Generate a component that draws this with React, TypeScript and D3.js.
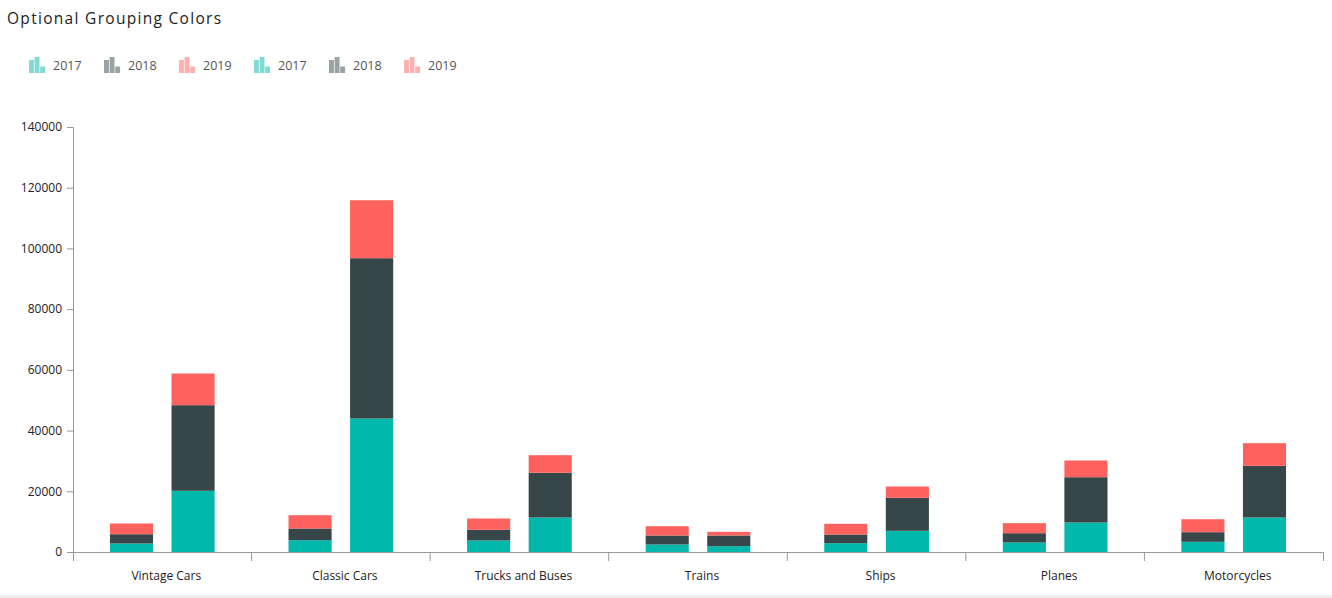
import React, { useEffect, useRef } from "react"
import * as d3 from "d3"

// categories and series
const categories = [
	"Vintage Cars",
	"Classic Cars",
	"Trucks and Buses",
	"Trains",
	"Ships",
	"Planes",
	"Motorcycles",
]
const years = ["2017", "2018", "2019"]
const groups = ["A", "B"]

// first (small) stack of each category
const groupA2017 = [2800, 3890, 3790, 2470, 2900, 3130, 3360]
const groupA2018 = [3060, 3850, 3520, 2970, 2860, 3060, 3160]
const groupA2019 = [3530, 4380, 3720, 3060, 3530, 3300, 4280]
// second (large) stack of each category
const groupB2017 = [20160, 43970, 11360, 1910, 6980, 9720, 11360]
const groupB2018 = [28200, 52810, 14730, 3530, 10870, 14920, 17030]
const groupB2019 = [10440, 19100, 5800, 1210, 3730, 5500, 7450]

const yTicks = [0, 20000, 40000, 60000, 80000, 100000, 120000, 140000]
const colors = ["#01B8AA", "#374649", "#FD625E"]

const W = 1332
const H = 598
const FONT = "'Open Sans', 'Noto Sans', sans-serif"

const App: React.FC = () => {
	const ref = useRef<SVGSVGElement>(null)

	useEffect(() => {
		const margin = { top: 127, right: 9, bottom: 46, left: 73 }
		const innerWidth = W - margin.left - margin.right
		const innerHeight = H - margin.top - margin.bottom

		const svg = d3.select(ref.current)
		svg.selectAll("*").remove()

		// bottom strip of the container
		svg.append("rect")
			.attr("x", 0)
			.attr("y", 595)
			.attr("width", W)
			.attr("height", 3)
			.attr("fill", "#f0f0f4")

		svg.append("text")
			.attr("x", 7)
			.attr("y", 24)
			.attr("font-family", FONT)
			.attr("font-size", 15.5)
			.attr("letter-spacing", "1.3px")
			.attr("fill", "#222")
			.text("Optional Grouping Colors")

		/* ***** legend ***** */
		const legendItems = groups.flatMap(() => years.map((y, i) => ({ y, c: colors[i] })))
		const legend = svg.append("g").attr("transform", "translate(29,57)")
		const li = legend
			.selectAll("g")
			.data(legendItems)
			.join("g")
			.attr("transform", (d, i) => `translate(${i * 75},0)`)
		const icon = [
			[0, 3, 13],
			[5.6, 0, 16],
			[11.2, 9.5, 6.5],
		]
		icon.forEach(([x, y, h]) => {
			li.append("rect")
				.attr("x", x)
				.attr("y", y)
				.attr("width", 4.9)
				.attr("height", h)
				.attr("fill", (d) => d.c)
				.attr("opacity", 0.5)
		})
		li.append("text")
			.attr("x", 24)
			.attr("y", 13)
			.attr("font-family", FONT)
			.attr("font-size", 12.5)
			.attr("fill", "#555")
			.text((d) => d.y)

		/* ***** chart ***** */
		const g = svg.append("g").attr("transform", `translate(${margin.left},${margin.top})`)

		const x0 = d3.scaleBand().domain(categories).range([0, innerWidth])
		const x1 = d3
			.scaleBand()
			.domain(groups)
			.range([0, x0.bandwidth()])
			.paddingInner(0.3)
			.paddingOuter(0.6)
		const y = d3.scaleLinear().domain([0, 140000]).range([innerHeight, 0])

		const groupData: Record<string, number[][]> = {
			A: [groupA2017, groupA2018, groupA2019],
			B: [groupB2017, groupB2018, groupB2019],
		}

		groups.forEach((grp) => {
			const rows = categories.map((cat, ci) => {
				const r: Record<string, any> = { cat }
				years.forEach((yr, yi) => (r[yr] = groupData[grp][yi][ci]))
				return r
			})
			const stacked = d3.stack().keys(years)(rows as any)
			g.append("g")
				.selectAll("g")
				.data(stacked)
				.join("g")
				.attr("fill", (d, i) => colors[i])
				.selectAll("rect")
				.data((d) => d)
				.join("rect")
				.attr("x", (d: any) => (x0(d.data.cat) as number) + (x1(grp) as number))
				.attr("width", x1.bandwidth())
				.attr("y", (d) => y(d[1]))
				.attr("height", (d) => y(d[0]) - y(d[1]))
		})

		const yAxis = g
			.append("g")
			.call(d3.axisLeft(y).tickValues(yTicks).tickFormat(d3.format("d")).tickSize(6).tickPadding(5))
		const xAxis = g
			.append("g")
			.attr("transform", `translate(0,${innerHeight})`)
			.call(
				d3
					.axisBottom(x0)
					.tickSize(0)
					.tickSizeOuter(9)
					.tickPadding(19)
			)
		xAxis.selectAll(".tick text").attr("dx", 4)

		// separators between categories
		g.append("g")
			.selectAll("line")
			.data(categories.slice(1))
			.join("line")
			.attr("x1", (d) => x0(d) as number)
			.attr("x2", (d) => x0(d) as number)
			.attr("y1", innerHeight)
			.attr("y2", innerHeight + 9)
			.attr("stroke", "#999")

		;[yAxis, xAxis].forEach((a) => {
			a.selectAll("path, line").attr("stroke", "#999")
			a.selectAll("text").attr("font-family", FONT).attr("font-size", 12).attr("fill", "#222")
		})
	}, [])

	return (
		<div style={{ position: "absolute", left: 0, top: 0 }}>
			<svg ref={ref} width={W} height={H} style={{ display: "block", background: "#fff" }} />
		</div>
	)
}

export default App
